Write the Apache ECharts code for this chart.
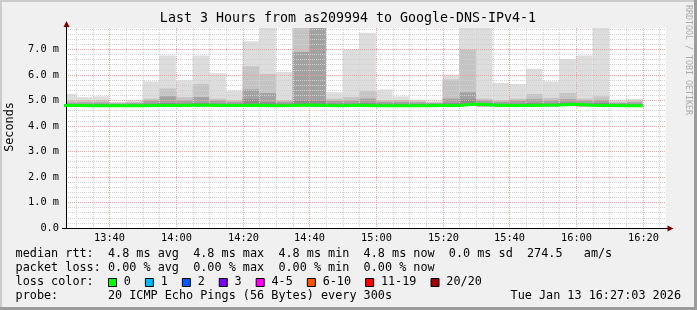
<!DOCTYPE html>
<html><head><meta charset="utf-8">
<script src="https://cdn.jsdelivr.net/npm/echarts@6/dist/echarts.min.js"></script>
<style>html,body{margin:0;padding:0;background:#f0f0f0}#c{width:697px;height:310px}</style>
</head><body><div id="c"></div>
<script>
// ---- data ----
const barStarts = ['13:25','13:30','13:35','13:40','13:45','13:50','13:55','14:00','14:05','14:10',
  '14:15','14:20','14:25','14:30','14:35','14:40','14:45','14:50','14:55','15:00',
  '15:05','15:10','15:15','15:20','15:25','15:30','15:35','15:40','15:45','15:50',
  '15:55','16:00','16:05','16:10','16:15'];
const smokeMin = [4.74,4.74,4.74,4.74,4.74,4.74,4.74,4.75,4.75,4.74,4.74,4.75,4.73,4.74,4.75,4.74,4.74,4.75,4.74,4.74,
  4.74,4.74,4.74,4.74,4.77,4.75,4.74,4.74,4.75,4.75,4.77,4.75,4.74,4.74,4.74];
const smokeMax = [5.25,5.13,5.16,4.95,5.00,5.75,6.76,5.79,6.76,6.07,5.39,7.32,7.90,6.12,7.90,7.90,5.33,7.00,7.65,5.43,
  5.16,5.03,4.97,6.01,7.90,7.90,5.69,5.65,6.24,5.75,6.63,6.76,7.90,5.00,5.06];
const smokeL2 = [5.00,5.00,5.00,4.92,4.95,5.07,5.47,5.13,5.65,5.07,5.00,6.34,6.04,5.00,7.90,7.90,5.07,5.13,5.36,5.00,
  5.02,4.97,4.93,5.82,7.00,5.07,5.00,5.07,5.25,5.10,5.29,5.07,5.16,4.95,5.00];
const smokeL3 = [4.92,4.92,4.92,4.88,4.90,5.00,5.16,5.00,5.13,5.00,4.95,5.43,5.29,4.95,6.90,7.90,4.98,5.00,5.07,4.95,
  4.95,4.93,4.90,5.07,5.32,5.00,4.95,5.00,5.05,5.00,5.05,5.00,5.02,4.90,4.93];
const smokeL4 = [4.86,4.86,4.86,4.85,4.85,4.88,4.90,4.88,4.90,4.88,4.87,5.05,4.93,4.87,5.00,5.00,4.88,4.88,4.90,4.87,
  4.87,4.86,4.86,4.90,5.04,4.90,4.87,4.88,4.90,4.88,4.92,4.88,4.90,4.86,4.86];
const medianRtt = [4.80,4.79,4.79,4.79,4.79,4.80,4.80,4.81,4.81,4.80,4.80,4.81,4.79,4.80,4.82,4.80,4.79,4.81,4.79,4.79,
  4.79,4.79,4.80,4.80,4.86,4.82,4.80,4.80,4.81,4.82,4.85,4.81,4.80,4.79,4.79];
const xTickLabels = ['13:40','14:00','14:20','14:40','15:00','15:20','15:40','16:00','16:20'];
const yTickValues = [0,1,2,3,4,5,6,7];
const lossLabels = ['0','1','2','3','4-5','6-10','11-19','20/20'];
const lossColors = ['#00ff00','#00b8ff','#0059ff','#7e00ff','#ff00ff','#ff5500','#ff0000','#a10000'];
const titleText = 'Last 3 Hours from as209994 to Google-DNS-IPv4-1';
const legendLines = [
  'median rtt:  4.8 ms avg  4.8 ms max  4.8 ms min  4.8 ms now  0.0 ms sd  274.5   am/s',
  'packet loss: 0.00 % avg  0.00 % max  0.00 % min  0.00 % now',
  'loss color:',
  'probe:       20 ICMP Echo Pings (56 Bytes) every 300s'
];
const dateText = 'Tue Jan 13 16:27:03 2026';

// ---- build ----
const MONO = 'DejaVu Sans Mono';
const T = s => { const [h, m] = s.split(':').map(Number); return Date.UTC(2026, 0, 13, h, m); };
const axisStart = Date.UTC(2026, 0, 13, 13, 27, 3);
const axisEnd = Date.UTC(2026, 0, 13, 16, 27, 3);
const STEP = 300000;
const starts = barStarts.map(T);
const ends = starts.map(t => t + STEP);
const majorTimes = xTickLabels.map(T);

const minorTimes = [];
for (let t = T('13:30'); t < axisEnd; t += STEP) { if (!majorTimes.includes(t)) minorTimes.push(t); }

function clipR(r, cs) {
  return echarts.graphic.clipRectByRect(r, {x: cs.x, y: cs.y, width: cs.width, height: cs.height});
}
function layer(lo, hi, color) {
  return {
    type: 'custom', z: 1, silent: true, clip: true,
    encode: {x: [0, 1], y: [2, 3]},
    data: starts.map((t, i) => [t, ends[i], lo[i], hi[i]]),
    renderItem: (params, api) => {
      const p0 = api.coord([api.value(0), api.value(3)]);
      const p1 = api.coord([api.value(1), api.value(2)]);
      const r = clipR({x: p0[0], y: p0[1], width: p1[0] - p0[0], height: p1[1] - p0[1]}, params.coordSys);
      return r && {type: 'rect', shape: r, style: {fill: color}};
    }
  };
}
const lo2 = smokeMin.map(v => v + 0.01), lo3 = smokeMin.map(v => v + 0.02), lo4 = smokeMin.map(v => v + 0.03);

const medianData = starts.map((t, i) => [t, medianRtt[i]]);
medianData.push([ends[ends.length - 1], medianRtt[medianRtt.length - 1]]);

// legend boxes
const boxX = [];
let bx = 108.5;
lossLabels.forEach((l, i) => { boxX.push(bx); bx += 29.8 + 7.12 * l.length; });
const graphics = [
  {type: 'rect', shape: {x: 0, y: 0, width: 697, height: 2}, style: {fill: '#cbcbcb'}, z: 100},
  {type: 'rect', shape: {x: 0, y: 0, width: 2, height: 310}, style: {fill: '#cbcbcb'}, z: 100},
  {type: 'rect', shape: {x: 0, y: 307, width: 697, height: 3}, style: {fill: '#9c9c9c'}, z: 100},
  {type: 'rect', shape: {x: 694, y: 0, width: 3, height: 310}, style: {fill: '#9c9c9c'}, z: 100},
  {type: 'text', x: 348, y: 19, style: {text: titleText, font: '13.3px ' + MONO, fill: '#000', align: 'center', verticalAlign: 'middle'}, z: 100},
  {type: 'text', x: 10, y: 127, rotation: Math.PI / 2, style: {text: 'Seconds', font: '11.8px ' + MONO, fill: '#000', align: 'center', verticalAlign: 'middle'}, z: 100},
  {type: 'text', x: 688, y: 5, rotation: -Math.PI / 2, style: {text: 'RRDTOOL / TOBI OETIKER', font: '8.3px ' + MONO, fill: '#aaaaaa', align: 'left', verticalAlign: 'middle'}, z: 100},
  {type: 'line', shape: {x1: 66.5, y1: 28, x2: 66.5, y2: 24}, style: {stroke: '#000', lineWidth: 1}, z: 100},
  {type: 'line', shape: {x1: 62, y1: 228.5, x2: 66, y2: 228.5}, style: {stroke: '#000', lineWidth: 1}, z: 100},
  {type: 'line', shape: {x1: 666, y1: 228.5, x2: 669, y2: 228.5}, style: {stroke: '#000', lineWidth: 1}, z: 100},
  {type: 'polygon', shape: {points: [[66.5, 21], [63.5, 27], [69.5, 27]]}, style: {fill: '#7f0000'}, z: 101},
  {type: 'polygon', shape: {points: [[673.5, 228.5], [667.5, 225.5], [667.5, 231.5]]}, style: {fill: '#7f0000'}, z: 101}
];
const lineY = [254.3, 267.8, 282, 295.7];
legendLines.forEach((s, i) => graphics.push({type: 'text', x: 15.6, y: lineY[i],
  style: {text: s, font: '11.8px ' + MONO, fill: '#000', align: 'left', verticalAlign: 'middle'}, z: 100}));
graphics.push({type: 'text', x: 681, y: lineY[3], style: {text: dateText, font: '11.8px ' + MONO, fill: '#000', align: 'right', verticalAlign: 'middle'}, z: 100});
lossLabels.forEach((l, i) => {
  graphics.push({type: 'rect', shape: {x: boxX[i], y: 278.5, width: 8, height: 8}, style: {fill: lossColors[i], stroke: '#000', lineWidth: 1}, z: 100});
  graphics.push({type: 'text', x: boxX[i] + 15.3, y: lineY[2], style: {text: l, font: '11.8px ' + MONO, fill: '#000', align: 'left', verticalAlign: 'middle'}, z: 100});
});

function vGrid(times, color, withLabels) {
  return {
    type: 'custom', z: 2.5, silent: true, clip: false,
    encode: {x: 0},
    data: times.map((t, i) => [t, i]),
    renderItem: (params, api) => {
      const x = Math.round(api.coord([api.value(0), 0])[0]) + 0.5;
      const cs = params.coordSys;
      const children = [{type: 'line', shape: {x1: x, y1: cs.y, x2: x, y2: cs.y + cs.height},
        style: {stroke: color, lineWidth: 1, lineDash: [1, 1]}}];
      if (withLabels) children.push({type: 'text', x: x, y: cs.y + cs.height + 10,
        style: {text: xTickLabels[api.value(1)], font: '10.3px ' + MONO, fill: '#000', align: 'center', verticalAlign: 'middle'}});
      return {type: 'group', children};
    }
  };
}

const chart = echarts.init(document.getElementById('c'), null, {renderer: 'canvas'});
chart.setOption({
  useUTC: true,
  animation: false,
  backgroundColor: '#f0f0f0',
  grid: {left: 66, top: 28, width: 600, height: 200, show: true, backgroundColor: '#ffffff', borderWidth: 0, z: 0},
  xAxis: {
    type: 'time', min: axisStart, max: axisEnd, z: 3,
    axisLine: {show: true, lineStyle: {color: '#000', width: 1}},
    axisTick: {show: false},
    axisLabel: {show: false},
    splitLine: {show: false}
  },
  yAxis: {
    type: 'value', min: 0, max: 7.84, interval: 1, z: 3,
    axisLine: {show: true, lineStyle: {color: '#000', width: 1}},
    axisTick: {show: false},
    axisLabel: {fontFamily: MONO, fontSize: 10.3, color: '#000', margin: 7, showMaxLabel: false,
      formatter: v => yTickValues.includes(Math.round(v * 100) / 100) ? (v === 0 ? '0.0' : v.toFixed(1) + ' m') : ''},
    splitLine: {show: true, showMinLine: false, showMaxLine: false, lineStyle: {color: '#f0a0a0', type: 'dotted', width: 1}},
    minorTick: {show: false, splitNumber: 5},
    minorSplitLine: {show: true, lineStyle: {color: '#d0d0d0', type: 'dotted', width: 1}}
  },
  series: [
    layer(smokeMin, smokeMax, '#dddddd'),
    layer(lo2, smokeL2, '#c4c4c4'),
    layer(lo3, smokeL3, '#a2a2a2'),
    layer(lo4, smokeL4, '#8c8c8c'),
    vGrid(minorTimes, '#d0d0d0', false),
    vGrid(majorTimes, '#f0a0a0', true),
    {
      type: 'line', z: 4, step: 'end', showSymbol: false, silent: true,
      data: medianData,
      lineStyle: {color: '#00ff00', width: 3}
    }
  ],
  graphic: graphics
});
</script></body></html>
